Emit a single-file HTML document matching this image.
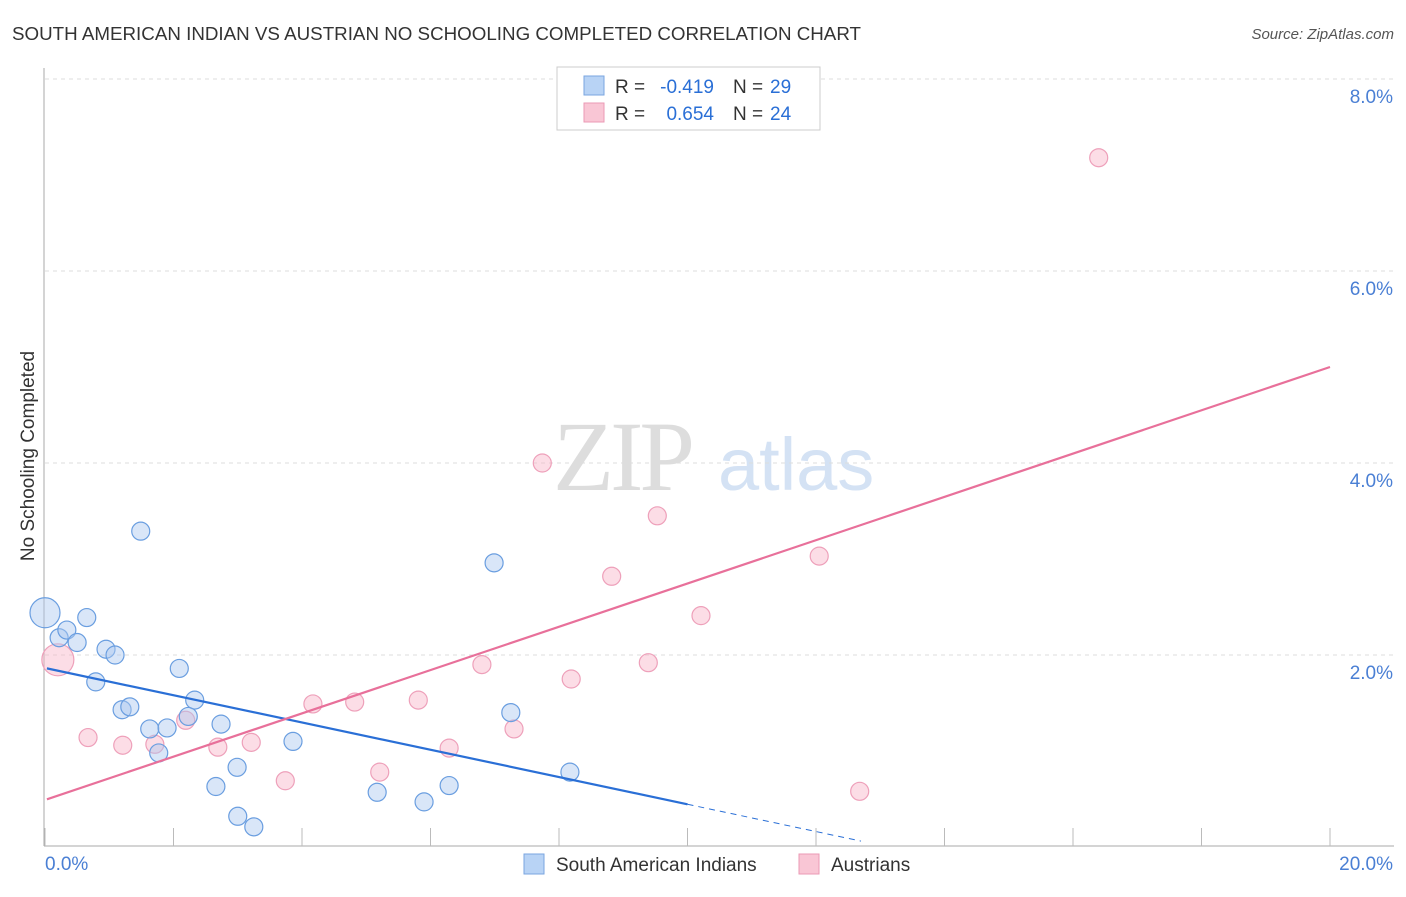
<!DOCTYPE html>
<html><head><meta charset="utf-8"><style>
body{margin:0;background:#fff;font-family:"Liberation Sans",sans-serif;}
</style></head><body>
<svg id="c" width="1406" height="892" font-family="Liberation Sans, sans-serif">
<text x="12" y="40" font-size="18" fill="#333" textLength="849" lengthAdjust="spacingAndGlyphs">SOUTH AMERICAN INDIAN VS AUSTRIAN NO SCHOOLING COMPLETED CORRELATION CHART</text>
<text x="1394" y="39" font-size="15" fill="#555" text-anchor="end" font-style="italic">Source: ZipAtlas.com</text>
<text transform="translate(34,456) rotate(-90)" font-size="19" fill="#333" text-anchor="middle">No Schooling Completed</text>
<g><text x="553" y="490" font-size="100" fill="#ddd" style="font-family:'Liberation Serif',serif" letter-spacing="-4">ZIP</text><text x="718" y="490" font-size="74" fill="#d4e2f4">atlas</text></g>
<g id="grid"></g><g id="marks"></g>
<g>
<rect x="557" y="67" width="263" height="63" fill="#fff" stroke="#ccc"/>
<rect x="584" y="76" width="20" height="19" fill="#b8d3f5" stroke="#7aa6e0"/>
<rect x="584" y="103" width="20" height="19" fill="#f9c6d5" stroke="#eb9ab5"/>
<text x="615" y="93" font-size="19" fill="#333">R =</text>
<text x="714" y="93" font-size="19" fill="#2a6fd6" text-anchor="end">-0.419</text>
<text x="733" y="93" font-size="19" fill="#333">N =</text>
<text x="770" y="93" font-size="19" fill="#2a6fd6">29</text>
<text x="615" y="120" font-size="19" fill="#333">R =</text>
<text x="714" y="120" font-size="19" fill="#2a6fd6" text-anchor="end">0.654</text>
<text x="733" y="120" font-size="19" fill="#333">N =</text>
<text x="770" y="120" font-size="19" fill="#2a6fd6">24</text>
</g>
<g>
<rect x="524" y="854" width="20" height="20" fill="#b8d3f5" stroke="#7aa6e0"/>
<text x="556" y="871" font-size="19" fill="#333">South American Indians</text>
<rect x="799" y="854" width="20" height="20" fill="#f9c6d5" stroke="#eb9ab5"/>
<text x="831" y="871" font-size="19" fill="#333">Austrians</text>
</g>
</svg>
<script>
const xTickLabels=["0.0%","20.0%"];
const yTicks=[2,4,6,8];
const yTickLabels=["2.0%","4.0%","6.0%","8.0%"];
const blueX=[0,0.22,0.34,0.50,0.65,0.95,1.09,0.79,1.49,1.20,1.32,1.63,1.90,1.77,2.09,2.33,2.23,2.74,2.66,2.99,3.00,3.25,3.86,5.17,5.90,6.29,6.99,7.25,8.17];
const blueY=[2.44,2.18,2.26,2.13,2.39,2.06,2.00,1.72,3.29,1.43,1.46,1.23,1.24,0.98,1.86,1.53,1.36,1.28,0.63,0.83,0.32,0.21,1.10,0.57,0.47,0.64,2.96,1.40,0.78];
const pinkX=[0.20,0.67,1.21,1.71,2.19,2.69,3.21,3.74,4.17,4.82,5.21,5.81,6.29,6.80,7.30,7.74,8.19,8.82,9.39,9.53,10.21,12.05,12.68,16.40];
const pinkY=[1.95,1.14,1.06,1.07,1.32,1.04,1.09,0.69,1.49,1.51,0.78,1.53,1.03,1.90,1.23,4.00,1.75,2.82,1.92,3.45,2.41,3.03,0.58,7.18];
const blueFit=[1.865,-0.142], pinkFit=[0.49,0.2255];
const NS="http://www.w3.org/2000/svg";
const X=v=>45+v*64.25, Y=v=>847-v*96;
function mk(p,t,a){const e=document.createElementNS(NS,t);for(const k in a)e.setAttribute(k,a[k]);p.appendChild(e);return e;}
const g=document.getElementById('grid'), m=document.getElementById('marks');
let ax=mk(g,'line',{x1:44,y1:68,x2:44,y2:846,stroke:'#aaa'});


let bx=mk(g,'line',{x1:44,y1:846,x2:1394,y2:846,stroke:'#aaa'});


for(let i=0;i<=10;i++){let t=mk(g,'line',{x1:X(i*2),x2:X(i*2),y1:828,y2:846,stroke:'#bbb'});

}
yTicks.forEach((v,i)=>{let l=mk(g,'line',{x1:45,x2:1394,y1:Y(v),y2:Y(v),stroke:'#ddd','stroke-dasharray':'4,4'});


let t=mk(g,'text',{x:1393,y:Y(v)+24,'text-anchor':'end','font-size':19,fill:'#4a7fd4'});t.textContent=yTickLabels[i];

});
let xl0=mk(g,'text',{x:45,y:870,'font-size':19,fill:'#4a7fd4'});xl0.textContent=xTickLabels[0];


let xl1=mk(g,'text',{x:1393,y:870,'font-size':19,fill:'#4a7fd4','text-anchor':'end'});xl1.textContent=xTickLabels[1];


pinkX.forEach((v,i)=>{let c=mk(m,'circle',{cx:X(v),cy:Y(pinkY[i]),r:i==0?16:9,fill:'rgba(248,180,200,0.45)',stroke:'#eea0ba','stroke-width':1.2});

});
blueX.forEach((v,i)=>{let c=mk(m,'circle',{cx:X(v),cy:Y(blueY[i]),r:i==0?15:9,fill:'rgba(170,200,240,0.45)',stroke:'#6a9ee0','stroke-width':1.2});

});
const f=(fit,x)=>fit[0]+fit[1]*x;
let bl=mk(m,'line',{x1:X(0.03),y1:Y(f(blueFit,0.03)),x2:X(10),y2:Y(f(blueFit,10)),stroke:'#2a6fd6','stroke-width':2.2});


let bd=mk(m,'line',{x1:X(10),y1:Y(f(blueFit,10)),x2:X(12.7),y2:Y(f(blueFit,12.7)),stroke:'#2a6fd6','stroke-width':1,'stroke-dasharray':'6,5'});


let pl=mk(m,'line',{x1:X(0.03),y1:Y(f(pinkFit,0.03)),x2:X(20),y2:Y(f(pinkFit,20)),stroke:'#e8709a','stroke-width':2.2});


</script>
</body></html>
